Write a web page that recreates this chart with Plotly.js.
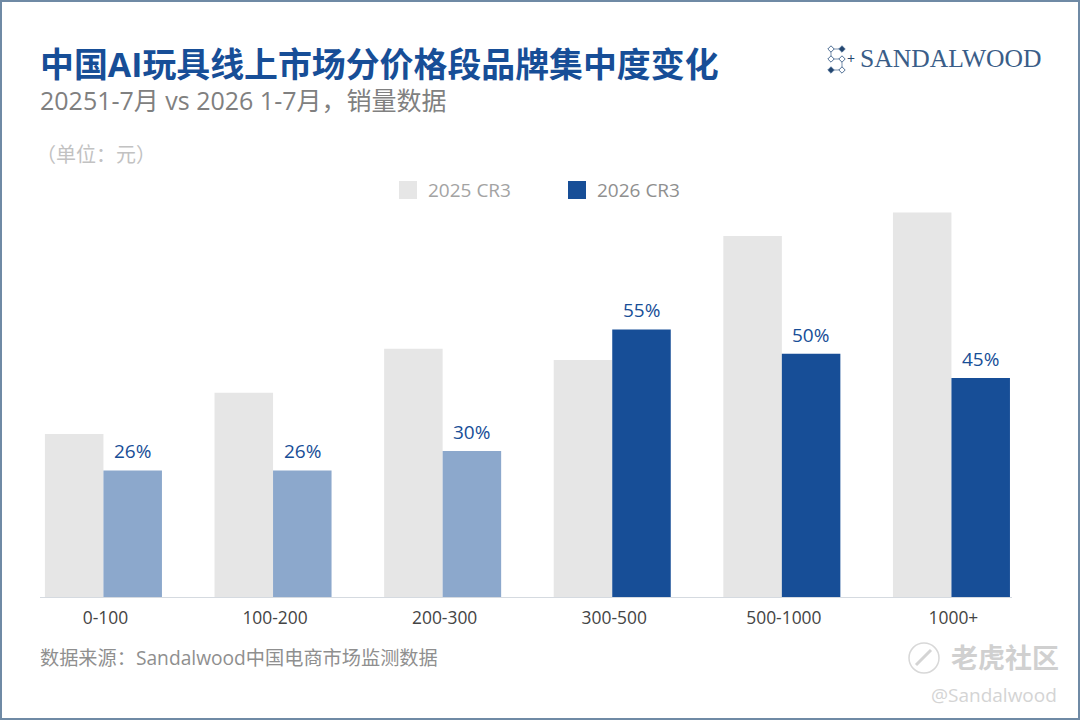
<!DOCTYPE html>
<html>
<head>
<meta charset="utf-8">
<script src="https://cdn.plot.ly/plotly-3.0.1.min.js"></script>
<style>
  html, body { margin: 0; padding: 0; background: #fff; }
  #chart { width: 1080px; height: 720px; }
</style>
</head>
<body>
<div id="chart"></div>
<script>
const priceBands = ["0-100", "100-200", "200-300", "300-500", "500-1000", "1000+"];
const cr3_2025 = [33.5, 42, 51, 48.7, 74.2, 79];
const cr3_2026 = [26, 26, 30, 55, 50, 45];
const labels2026 = ["26%", "26%", "30%", "55%", "50%", "45%"];
const colors2026 = ["#8CA8CC", "#8CA8CC", "#8CA8CC", "#174E97", "#174E97", "#174E97"];

const W = 1080, H = 720;
const FONT = '"Open Sans", "Noto Sans CJK SC", sans-serif';
const BLUE = "#174E97";

// paper coordinates from pixels, for everything that is not data
const px = (x) => x / (W - 40 - 68) - 40 / (W - 40 - 68);
const py = (y) => (597 - y) / (597 - 198);

function note(text, x, y, size, color, extra) {
  return Object.assign({
    text, x: px(x), y: py(y), xref: "paper", yref: "paper",
    xanchor: "left", yanchor: "middle", showarrow: false,
    font: { family: FONT, size, color },
  }, extra || {});
}

function box(x0, y0, x1, y1, fill, line) {
  return {
    type: "rect", xref: "paper", yref: "paper",
    x0: px(x0), x1: px(x1), y0: py(y0), y1: py(y1),
    fillcolor: fill, line: line || { width: 0 }, layer: "below",
  };
}

function diamond(x, y, filled) {
  const r = 3.2;
  return {
    type: "path", xref: "paper", yref: "paper",
    path: `M${px(x - r)},${py(y)} L${px(x)},${py(y - r)} L${px(x + r)},${py(y)} L${px(x)},${py(y + r)} Z`,
    fillcolor: filled ? "#24466F" : "#fff",
    line: { color: "#4F6F95", width: 1 },
  };
}

function seg(x0, y0, x1, y1, color, width) {
  return {
    type: "line", xref: "paper", yref: "paper",
    x0: px(x0), x1: px(x1), y0: py(y0), y1: py(y1),
    line: { color: color || "#7C93AF", width: width || 1 },
  };
}

const traces = [
  {
    type: "bar", name: "2025 CR3", x: priceBands, y: cr3_2025,
    marker: { color: "#E6E6E6" }, hoverinfo: "none",
  },
  {
    type: "bar", name: "2026 CR3", x: priceBands, y: cr3_2026,
    marker: { color: colors2026 }, hoverinfo: "none",
  },
];

// value labels sit a little higher than textposition outside puts them
const valueNotes = priceBands.map((band, i) => ({
  text: labels2026[i], x: band, y: cr3_2026[i], xref: "x", yref: "y",
  xshift: 29, yshift: 4, xanchor: "center", yanchor: "bottom", showarrow: false,
  font: { family: FONT, size: 19, color: BLUE },
}));

const layout = {
  width: W, height: H,
  margin: { l: 40, r: 68, t: 198, b: 123, pad: 0 },
  paper_bgcolor: "#fff", plot_bgcolor: "#fff",
  barmode: "group", bargap: 0.31, bargroupgap: 0,
  showlegend: false,
  xaxis: {
    type: "category", range: [-0.374, 5.357], fixedrange: true,
    showgrid: false, showline: true, linecolor: "#D5DAE0", linewidth: 1,
    ticks: "", ticklabelstandoff: 5, ticklabelshift: 2,
    tickfont: { family: FONT, size: 17.4, color: "#444" },
  },
  yaxis: { range: [0, 82], visible: false, fixedrange: true },
  shapes: [
    // frame
    box(1, 1, 1079, 719, "rgba(0,0,0,0)", { color: "#6F8AA5", width: 2 }),
    // legend swatches
    box(399, 181, 417, 199, "#E6E6E6"),
    box(568, 181, 586, 199, BLUE),
    // logo mark
    seg(831, 49, 842, 49), seg(831, 59, 842, 59), seg(831, 70, 842, 70),
    seg(831, 49, 831, 59), seg(842, 59, 842, 70),
    diamond(831, 49, false), diamond(842, 49, true),
    diamond(831, 59, false), diamond(842, 59, false),
    diamond(831, 70, true), diamond(842, 70, false),
    // watermark icon
    {
      type: "circle", xref: "paper", yref: "paper",
      x0: px(909), x1: px(939), y0: py(643), y1: py(673),
      fillcolor: "rgba(0,0,0,0)", line: { color: "#D8D8D8", width: 1.5 },
    },
    seg(916, 665, 931, 650, "#D4D4D4", 3),
  ],
  annotations: valueNotes.concat([
    note("中国AI玩具线上市场分价格段品牌集中度变化", 38, 64, 33.9, BLUE, {
      font: { family: FONT, size: 33.9, color: BLUE, weight: 700 },
    }),
    note("20251-7月 vs 2026 1-7月，销量数据", 38, 100, 25, "#808080"),
    note("（单位：元）", 34, 154, 20, "#C2C2C2"),
    note("2025 CR3", 426, 190, 19, "#A3A3A3"),
    note("2026 CR3", 595, 190, 19, "#8F8F8F"),
    note("数据来源：Sandalwood中国电商市场监测数据", 38, 657, 19.2, "#8F8F8F"),
    note("+", 845, 59, 14, "#24466F"),
    note("SANDALWOOD", 858, 59, 25.6, "#3A5D88", {
      font: { family: '"Liberation Serif", serif', size: 25.6, color: "#3A5D88" },
    }),
    note("老虎社区", 949, 657, 27, "#D0D0D0", {
      font: { family: FONT, size: 27, color: "#D0D0D0", weight: 700 },
    }),
    note("@Sandalwood", 929, 695, 19, "#D4D4D4"),
  ]),
};

Plotly.newPlot("chart", traces, layout, { displayModeBar: false, staticPlot: true });
</script>
</body>
</html>
